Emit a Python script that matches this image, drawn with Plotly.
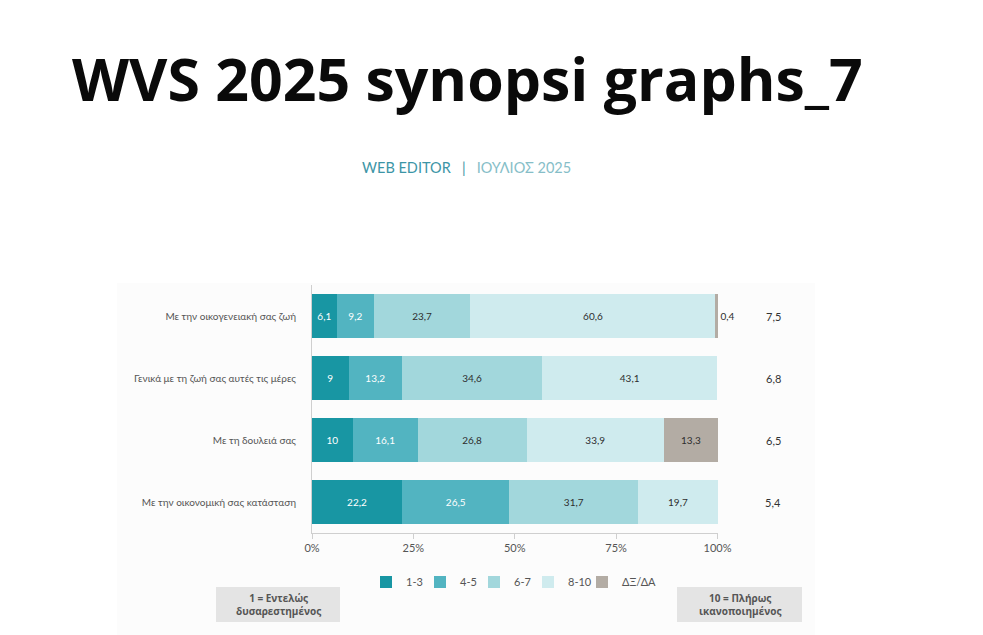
import plotly.graph_objects as go

categories = [
    "Με την οικογενειακή σας ζωή",
    "Γενικά με τη ζωή σας αυτές τις μέρες",
    "Με τη δουλειά σας",
    "Με την οικονομική σας κατάσταση",
]
series_names = ["1-3", "4-5", "6-7", "8-10", "ΔΞ/ΔΑ"]
v_1_3 = [6.1, 9, 10, 22.2]
v_4_5 = [9.2, 13.2, 16.1, 26.5]
v_6_7 = [23.7, 34.6, 26.8, 31.7]
v_8_10 = [60.6, 43.1, 33.9, 19.7]
v_dk = [0.4, 0, 13.3, 0]
means = [7.5, 6.8, 6.5, 5.4]
x_ticks = [0, 25, 50, 75, 100]
x_tick_labels = ["0%", "25%", "50%", "75%", "100%"]

colors = ["#1896a3", "#52b4c1", "#a2d7dc", "#cfebee", "#b3aca4"]
text_colors = ["#ffffff", "#ffffff", "#2e2e2e", "#2e2e2e", "#2e2e2e"]
series_values = [v_1_3, v_4_5, v_6_7, v_8_10, v_dk]


def fmt(v):
    return f"{v:g}".replace(".", ",")


W, H = 983, 635
L, R, T, B = 312, 265, 285, 102
pw, ph = W - L - R, H - T - B


def px(x):
    return (x - L) / pw


def py(y):
    return (H - B - y) / ph


fig = go.Figure()
for name, vals, col, tcol in zip(series_names, series_values, colors, text_colors):
    texts = [fmt(v) if v > 0 else "" for v in vals]
    if name == "ΔΞ/ΔΑ":
        positions = ["outside" if 0 < v < 3 else ("inside" if v > 0 else "none") for v in vals]
        lw = 60
    else:
        positions = ["inside"] * len(vals)
        lw = None
    fig.add_trace(go.Bar(
        y=categories, x=vals, name=name, orientation="h",
        marker=dict(color=col, line=dict(width=0)),
        text=texts, textposition=positions, insidetextanchor="middle",
        textangle=0, constraintext="none",
        textfont=dict(family="Lato, Open Sans, sans-serif", size=10, color=tcol),
        outsidetextfont=dict(family="Lato, Open Sans, sans-serif", size=10, color="#2e2e2e"),
        cliponaxis=False, hoverinfo="skip", legendwidth=lw,
    ))

annotations = []
for cat, m in zip(categories, means):
    annotations.append(dict(
        x=px(773), xref="paper", y=cat, yref="y", text=fmt(m), showarrow=False,
        font=dict(family="Lato, Open Sans, sans-serif", size=11, color="#333333"),
        xanchor="center", yanchor="middle",
    ))

# Title and subtitle
annotations.append(dict(
    x=px(70), y=py(78), xref="paper", yref="paper", text="<b>WVS 2025 synopsi graphs_7</b>",
    showarrow=False, xanchor="left", yanchor="middle",
    font=dict(family="Open Sans, sans-serif", size=59, color="#0a0a0a"),
))

annotations.append(dict(
    x=px(466), y=py(167), xref="paper", yref="paper",
    text="<span style='color:#3c95a6'>WEB EDITOR</span>&nbsp;&nbsp;&nbsp;<span style='color:#3c95a6'>|</span>&nbsp;&nbsp;&nbsp;<span style='color:#86bec8'>ΙΟΥΛΙΟΣ 2025</span>",
    showarrow=False, xanchor="center", yanchor="middle",
    font=dict(family="Lato, Open Sans, sans-serif", size=14.5, color="#3c95a6"),
))

# Scale end boxes
box_texts = ["<b>1 = Εντελώς<br>δυσαρεστημένος</b>", "<b>10 = Πλήρως<br>ικανοποιημένος</b>"]
box_x = [(216, 340), (677, 802)]
shapes = [dict(type="rect", xref="paper", yref="paper", x0=px(117), x1=px(815), y0=py(635), y1=py(283),
               fillcolor="#fcfcfc", line=dict(width=0), layer="below")]
for (x0, x1), t in zip(box_x, box_texts):
    shapes.append(dict(type="rect", xref="paper", yref="paper", x0=px(x0), x1=px(x1),
                       y0=py(622), y1=py(587), fillcolor="#e4e4e4", line=dict(width=0), layer="below"))
    annotations.append(dict(
        x=px((x0 + x1) / 2), y=py(604.5), xref="paper", yref="paper", text=t,
        showarrow=False, xanchor="center", yanchor="middle",
        font=dict(family="Open Sans, sans-serif", size=10, color="#555555"),
    ))

fig.update_layout(
    width=W, height=H,
    margin=dict(l=L, r=R, t=T, b=B, pad=0),
    barmode="stack", bargap=0.29,
    paper_bgcolor="white", plot_bgcolor="rgba(0,0,0,0)",
    showlegend=True,
    legend=dict(orientation="h", x=px(366), y=py(582), xanchor="left", yanchor="middle",
                entrywidth=9, entrywidthmode="pixels", bgcolor="rgba(0,0,0,0)",
                font=dict(family="Lato, Open Sans, sans-serif", size=11, color="#555555"),
                traceorder="normal"),
    xaxis=dict(range=[0, 100.12], tickvals=x_ticks, ticktext=x_tick_labels, showgrid=False,
               zeroline=False, showline=True, linecolor="#cfcfcf", linewidth=1,
               ticks="outside", ticklen=5, tickcolor="#cfcfcf",
               tickfont=dict(family="Lato, Open Sans, sans-serif", size=11, color="#555555"),
               fixedrange=True),
    yaxis=dict(autorange="reversed", showgrid=False, zeroline=False, showline=True,
               linecolor="#cfcfcf", linewidth=1, ticks="", ticklabelstandoff=13,
               tickfont=dict(family="Lato, Open Sans, sans-serif", size=10, color="#555555"),
               fixedrange=True),
    annotations=annotations, shapes=shapes,
    font=dict(family="Lato, Open Sans, sans-serif"),
)

fig.write_html("out.html", config={"displayModeBar": False})
